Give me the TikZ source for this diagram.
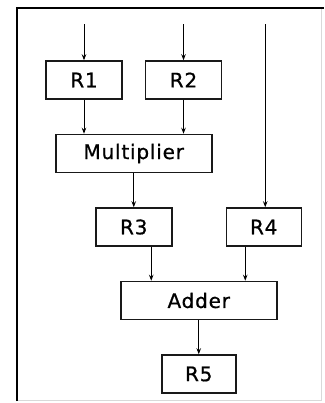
\documentclass[tikz,border=0pt]{standalone}
\usepackage{fontspec}
\setsansfont[LetterSpace=4, FakeBold=0.8]{DejaVu Sans}
\usepackage{tikz}
\usetikzlibrary{arrows.meta, positioning, calc}

\begin{document}
\begin{tikzpicture}[
    x=1pt, y=1pt,
    node distance=34pt and 22pt,
    reg/.style={rectangle, draw=black!90, line width=1.5pt, minimum width=76pt, minimum height=38pt, font=\sffamily\fontsize{20}{23}\selectfont, inner sep=0pt},
    unit/.style={reg, minimum width=156pt},
    arrow/.style={-{Stealth[length=6pt, width=4.5pt]}, line width=0.9pt},
]
\useasboundingbox (0,0) rectangle (324,-403);

% Frame
\draw[black!15, line width=0.8pt] (321,-8) -- (321,-400) -- (17,-400);
\draw[line width=1.8pt] (17,-401) -- (17,-8) -- (324,-8);

% Input registers
\node[reg] (r1) at (84,-80) {R1};
\node[reg, right=of r1] (r2) {R2};

% Multiplier
\node[unit, below=34pt of $(r1.south)!0.5!(r2.south)$, anchor=north] (mult) {Multiplier};

% R3, R4
\node[reg, below=of mult] (r3) {R3};
\node[reg, minimum width=75pt, right=53pt of r3] (r4) {R4};

% Adder
\node[unit, below=34pt of $(r3.south)!0.5!(r4.south)$, anchor=north] (adder) {Adder};

% R5
\node[reg, minimum width=74pt, below=of adder] (r5) {R5};

% Inputs
\coordinate[above=36pt of r1.north] (in1);
\coordinate[above=36pt of r2.north] (in2);
\coordinate (in4) at ([xshift=1.5pt]in2 -| r4);

% Arrows
\draw[arrow] (in1) -- (r1);
\draw[arrow] (in2) -- (r2);
\draw[arrow] (in4) -- (in4 |- r4.north);
\draw[arrow] (r1) -- (r1 |- mult.north);
\draw[arrow] (r2) -- (r2 |- mult.north);
\draw[arrow] (mult) -- (r3);
\draw[arrow] ([xshift=17.5pt]r3.south) -- ([xshift=17.5pt]r3.south |- adder.north);
\draw[arrow] ([xshift=-18.5pt]r4.south) -- ([xshift=-18.5pt]r4.south |- adder.north);
\draw[arrow] (adder) -- (adder |- r5.north);

\end{tikzpicture}
\end{document}
